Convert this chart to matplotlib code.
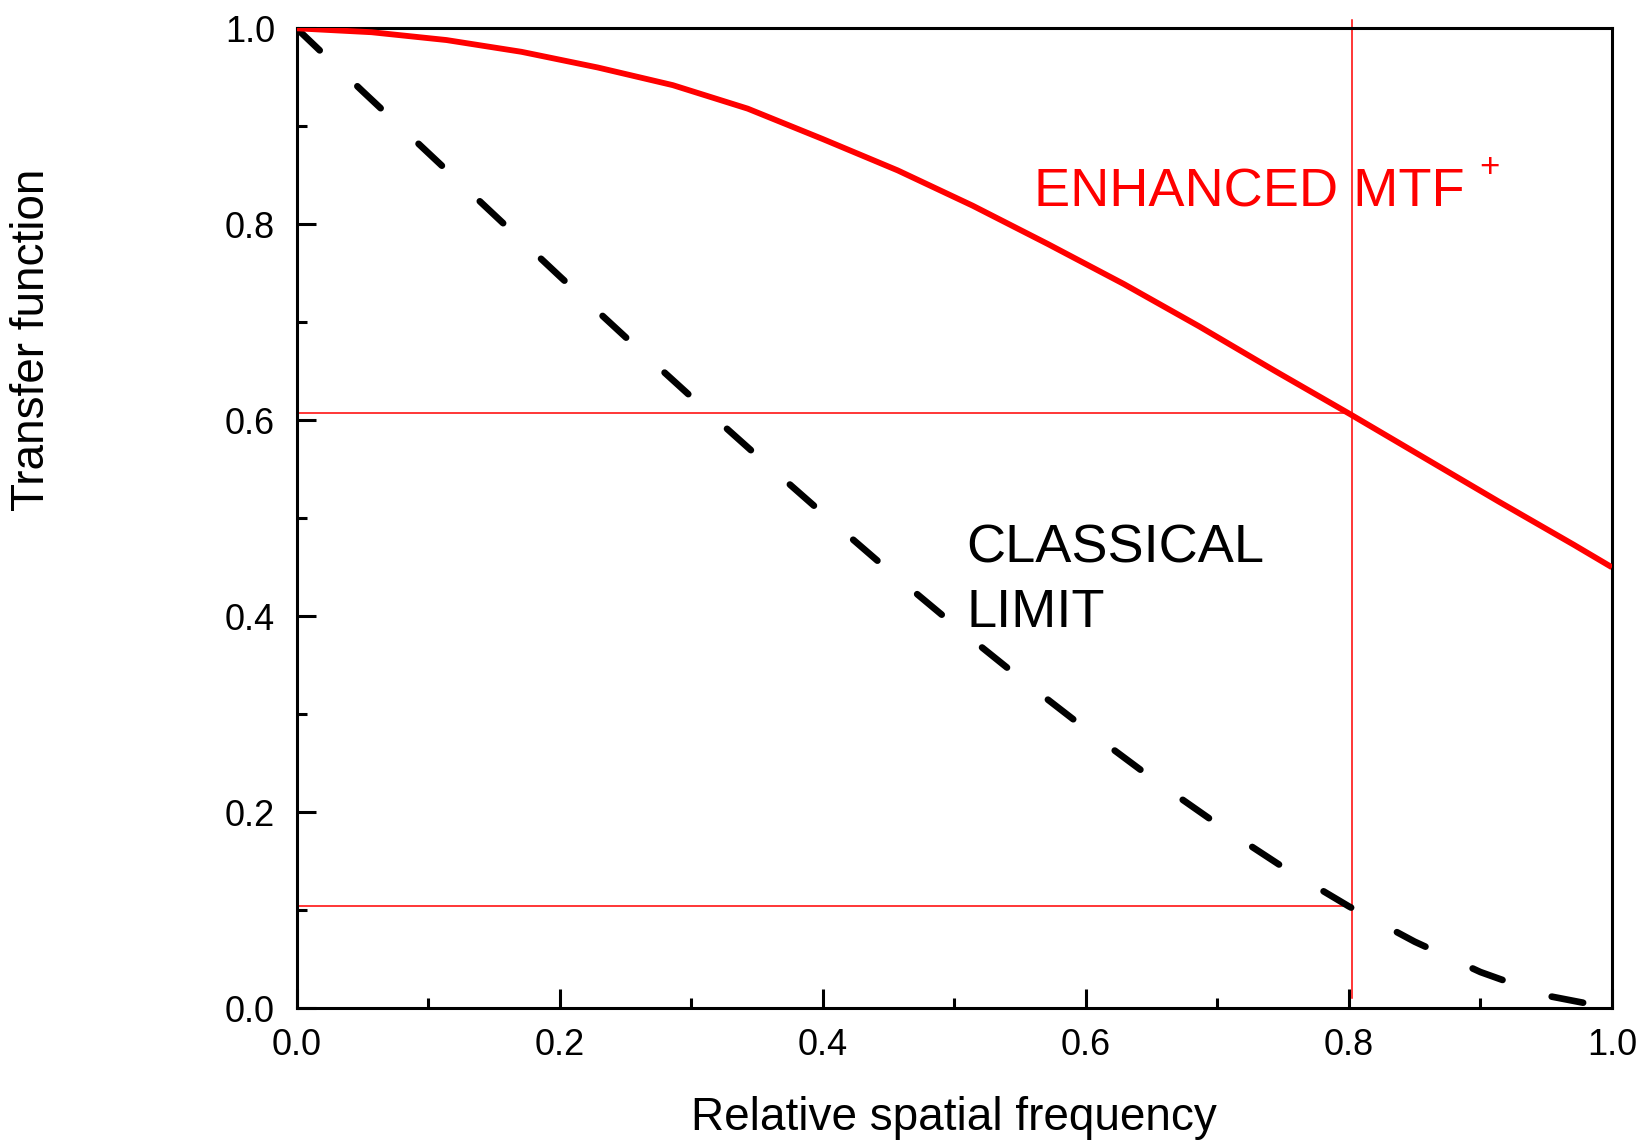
import matplotlib
matplotlib.use("Agg")
import matplotlib.pyplot as plt
from matplotlib.ticker import MultipleLocator

plt.rcParams['font.family'] = ['Liberation Sans', 'DejaVu Sans']

# Enhanced MTF (red solid polyline)
enh_x = [0.0, 0.057, 0.114, 0.171, 0.229, 0.286, 0.343, 0.400, 0.457, 0.514,
         0.571, 0.629, 0.686, 0.743, 0.800, 0.857, 0.914, 0.971, 1.0]
enh_y = [1.0, 0.996, 0.988, 0.976, 0.960, 0.942, 0.918, 0.887, 0.855, 0.819,
         0.780, 0.739, 0.696, 0.651, 0.607, 0.562, 0.517, 0.473, 0.450]

# Classical limit (black dashed)
cls_x = [0.0, 0.05, 0.10, 0.15, 0.20, 0.25, 0.30, 0.35, 0.40, 0.45, 0.50,
         0.55, 0.60, 0.65, 0.70, 0.75, 0.80, 0.85, 0.90, 0.95, 1.0]
cls_y = [1.0, 0.936, 0.873, 0.810, 0.747, 0.685, 0.624, 0.564, 0.505, 0.447, 0.391,
         0.337, 0.285, 0.235, 0.188, 0.144, 0.104, 0.068, 0.037, 0.013, 0.0]

# Guide lines
guide_x = 0.802
guide_y_enh = 0.607
guide_y_cls = 0.104

x_ticks = [0.0, 0.2, 0.4, 0.6, 0.8, 1.0]
y_ticks = [0.0, 0.2, 0.4, 0.6, 0.8, 1.0]

fig = plt.figure(figsize=(16.43, 11.41), dpi=100)
ax = fig.add_axes([0.1805, 0.1163, 0.8006, 0.8589])

red = '#FF0000'
# thin guide lines
ax.plot([0, guide_x], [guide_y_enh, guide_y_enh], color=red, lw=1.1, zorder=2)
ax.plot([0, guide_x], [guide_y_cls, guide_y_cls], color=red, lw=1.1, zorder=2)
ax.plot([guide_x, guide_x], [0.011, 1.008], color=red, lw=1.1, zorder=2, clip_on=False)

ax.plot(cls_x, cls_y, color='black', lw=4.8, linestyle=(0, (4.8, 7.8)),
        dash_capstyle='round', zorder=3)
ax.plot(enh_x, enh_y, color=red, lw=4.2, zorder=4, solid_capstyle='butt')

ax.set_xlim(0, 1)
ax.set_ylim(0, 1)
ax.set_xticks(x_ticks)
ax.set_yticks(y_ticks)
ax.set_xticklabels([f"{v:.1f}" for v in x_ticks])
ax.set_yticklabels([f"{v:.1f}" for v in y_ticks])
ax.xaxis.set_minor_locator(MultipleLocator(0.1))
ax.yaxis.set_minor_locator(MultipleLocator(0.1))
ax.tick_params(which='major', direction='in', length=13.7, width=2.2, labelsize=26,
               top=False, right=False)
ax.tick_params(axis='y', which='major', pad=15.5)
ax.tick_params(axis='x', which='major', pad=14)
ax.tick_params(which='minor', direction='in', length=7.2, width=2.2, top=False, right=False)
for s in ax.spines.values():
    s.set_linewidth(2.2)

ax.text(0.561, 0.818, "ENHANCED MTF", color=red, fontsize=39, ha='left', va='baseline')
ax.text(0.907, 0.858, "+", color=red, fontsize=25, ha='center', va='center')
ax.text(0.509, 0.4547, "CLASSICAL", color='black', fontsize=39, ha='left', va='baseline')
ax.text(0.509, 0.3895, "LIMIT", color='black', fontsize=39, ha='left', va='baseline')

fig.text(0.0195, 0.702, "Transfer function", rotation=90, fontsize=33,
         ha='center', va='center')
fig.text(0.5808, 0.0096, "Relative spatial frequency", fontsize=33,
         ha='center', va='baseline')

fig.savefig("out.png", dpi=100)
